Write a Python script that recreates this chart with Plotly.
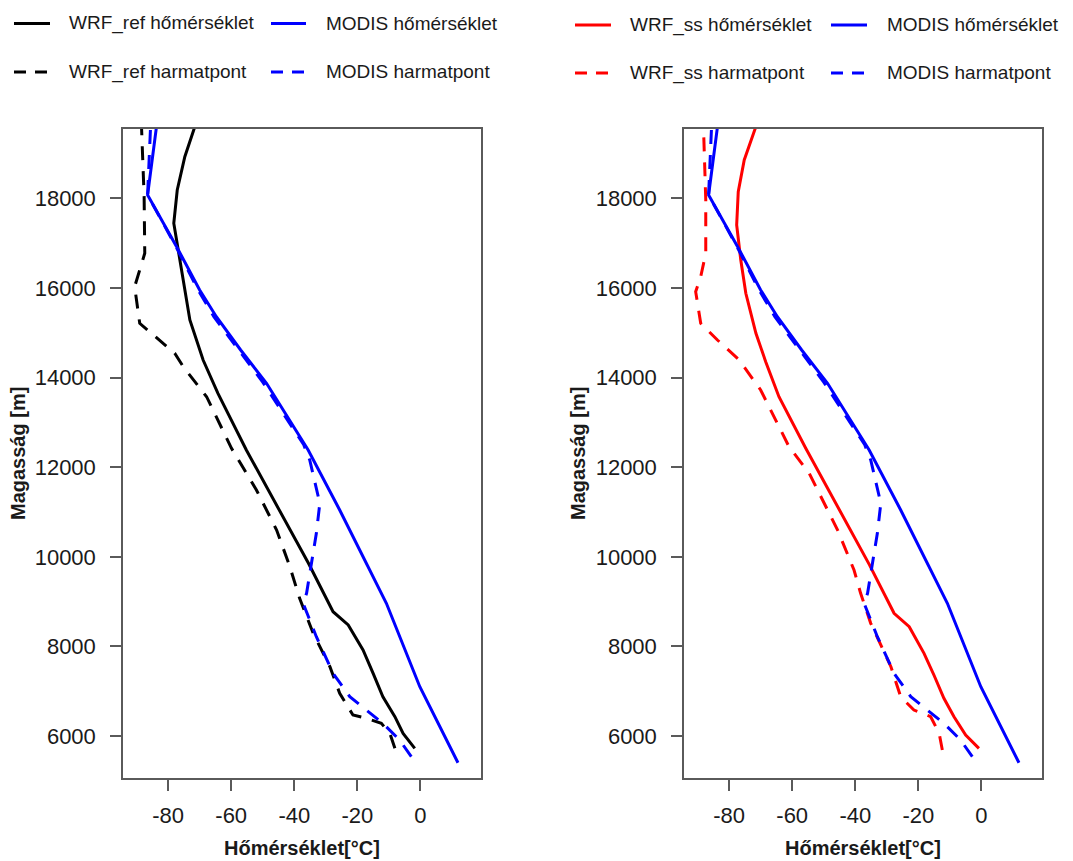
import plotly.graph_objects as go

# ---- data: temperature (°C) vs. height (m) ----
# WRF_ref temperature
ref_t_T = [-1.8, -5.5, -8.1, -11.9, -15.0, -18.2, -22.9, -27.7, -35.5, -55.2, -64.2,
           -68.9, -73.1, -76.3, -78.2, -77.1, -74.7, -71.8, -70.9]
ref_t_H = [5725, 6060, 6431, 6877, 7399, 7920, 8478, 8774, 9855, 12384, 13649,
           14392, 15285, 16624, 17444, 18187, 18930, 19542, 19700]
# WRF_ref dew point
ref_d_T = [-8.1, -9.7, -12.4, -17.1, -21.4, -25.6, -28.7, -34.0, -38.3, -41.4, -45.6,
           -52.0, -59.9, -67.8, -75.2, -77.9, -89.0, -90.6, -87.4, -87.6, -88.4, -88.5]
ref_d_H = [5725, 6060, 6283, 6395, 6469, 6953, 7547, 8292, 9073, 9779, 10598,
           11491, 12421, 13573, 14243, 14542, 15211, 16028, 16774, 18037, 19542, 19700]
# WRF_ss temperature
ss_t_T = [-0.8, -5.0, -8.7, -11.9, -15.0, -18.2, -22.9, -27.7, -35.5, -55.7, -64.2,
          -68.4, -71.5, -74.7, -76.3, -77.6, -77.1, -75.2, -71.8, -71.0]
ss_t_H = [5725, 6022, 6431, 6841, 7350, 7846, 8440, 8739, 9820, 12421, 13573,
          14355, 14988, 15881, 16624, 17406, 18149, 18856, 19542, 19700]
# WRF_ss dew point
ss_d_T = [-12.4, -13.4, -16.1, -21.4, -25.6, -28.7, -35.1, -38.3, -40.4, -45.6, -54.6,
          -61.0, -70.0, -76.8, -83.7, -89.0, -90.6, -89.0, -87.4, -87.4, -88.1, -88.2]
ss_d_H = [5688, 6060, 6431, 6580, 6877, 7547, 8515, 9185, 9705, 10598, 11863,
          12457, 13723, 14392, 14839, 15211, 15917, 16252, 16774, 17963, 19542, 19700]
# MODIS temperature
mod_t_T = [11.9, -0.2, -10.8, -25.6, -35.6, -48.8, -57.0, -64.7, -70.0, -77.3, -86.5,
           -83.7, -83.5]
mod_t_H = [5404, 7100, 8962, 11044, 12384, 13872, 14616, 15359, 15955, 16922, 18075,
           19542, 19700]
# MODIS dew point
mod_d_T = [-2.9, -6.6, -11.9, -22.4, -27.7, -33.0, -37.2, -36.1, -33.0, -31.9, -35.1,
           -37.0, -50.0, -65.5, -70.5, -77.5, -86.5, -85.8, -85.5]
mod_d_H = [5538, 5911, 6283, 6877, 7399, 8216, 8962, 9185, 10524, 11194, 12160,
           12500, 13900, 15359, 15955, 16922, 18075, 19377, 19700]

x_ticks = [-80, -60, -40, -20, 0]
x_labels = ["-80", "-60", "-40", "-20", "0"]
y_ticks = [6000, 8000, 10000, 12000, 14000, 16000, 18000]
y_labels = ["6000", "8000", "10000", "12000", "14000", "16000", "18000"]
x_range = [-94.3, 19.2]
y_range = [5063, 19548]

BLACK, BLUE, RED = "#000000", "#0000FF", "#FF0000"
DASH = "14px,11px"
LW = 3
FONT = "Arial, Liberation Sans, sans-serif"
W, H = 1073, 861

fig = go.Figure()

def add(xs, ys, color, dash, name, ax):
    fig.add_trace(go.Scatter(
        x=xs, y=ys, mode="lines", name=name, showlegend=False,
        line=dict(color=color, width=LW, dash=dash),
        xaxis="x" if ax == 1 else "x2", yaxis="y" if ax == 1 else "y2"))

add(ref_t_T, ref_t_H, BLACK, "solid", "WRF_ref hőmérséklet", 1)
add(ref_d_T, ref_d_H, BLACK, DASH, "WRF_ref harmatpont", 1)
add(mod_t_T, mod_t_H, BLUE, "solid", "MODIS hőmérséklet", 1)
add(mod_d_T, mod_d_H, BLUE, DASH, "MODIS harmatpont", 1)

add(ss_t_T, ss_t_H, RED, "solid", "WRF_ss hőmérséklet", 2)
add(ss_d_T, ss_d_H, RED, DASH, "WRF_ss harmatpont", 2)
add(mod_t_T, mod_t_H, BLUE, "solid", "MODIS hőmérséklet", 2)
add(mod_d_T, mod_d_H, BLUE, DASH, "MODIS harmatpont", 2)

FRAME = "#5a5a5a"
axis_common = dict(showline=True, mirror=True, linecolor=FRAME, linewidth=1.5,
                   ticks="outside", ticklen=11, tickwidth=1.5, tickcolor=FRAME,
                   showgrid=False, zeroline=False, automargin=False,
                   tickfont=dict(family=FONT, size=22, color="#1a1a1a"))

def px_x(p):
    return p / W

def px_y(p):
    return 1 - p / H

fig.update_layout(
    width=W, height=H,
    margin=dict(l=0, r=0, t=0, b=0),
    paper_bgcolor="white", plot_bgcolor="white",
    xaxis=dict(domain=[px_x(123), px_x(481)], range=x_range, tickvals=x_ticks,
               ticktext=x_labels, anchor="y", ticklabelstandoff=6, **axis_common),
    yaxis=dict(domain=[px_y(778), px_y(129)], range=y_range, tickvals=y_ticks,
               ticktext=y_labels, anchor="x", ticklabelstandoff=10, **axis_common),
    xaxis2=dict(domain=[px_x(684), px_x(1042)], range=x_range, tickvals=x_ticks,
                ticktext=x_labels, anchor="y2", ticklabelstandoff=6, **axis_common),
    yaxis2=dict(domain=[px_y(778), px_y(129)], range=y_range, tickvals=y_ticks,
                ticktext=y_labels, anchor="x2", ticklabelstandoff=10, **axis_common),
    showlegend=False,
)

annotations = []
shapes = []

# axis titles
for cx in (302, 863):
    annotations.append(dict(text="<b>Hőmérséklet[°C]</b>", x=px_x(cx), y=px_y(848),
                            xref="paper", yref="paper", showarrow=False,
                            xanchor="center", yanchor="middle",
                            font=dict(family=FONT, size=20, color="#1a1a1a")))
for cx in (18, 578):
    annotations.append(dict(text="<b>Magasság [m]</b>", x=px_x(cx), y=px_y(454),
                            xref="paper", yref="paper", showarrow=False, textangle=-90,
                            xanchor="center", yanchor="middle",
                            font=dict(family=FONT, size=20, color="#1a1a1a")))

# legend keys drawn above each panel
legend_items = [
    (14, 50, 67, 23.5, BLACK, "solid", "WRF_ref hőmérséklet"),
    (271, 306, 324, 23.5, BLUE, "solid", "MODIS hőmérséklet"),
    (14, 50, 67, 72, BLACK, DASH, "WRF_ref harmatpont"),
    (271, 306, 324, 72, BLUE, DASH, "MODIS harmatpont"),
    (575, 611, 628, 25, RED, "solid", "WRF_ss hőmérséklet"),
    (831, 867, 885, 25, BLUE, "solid", "MODIS hőmérséklet"),
    (575, 611, 628, 73, RED, DASH, "WRF_ss harmatpont"),
    (831, 867, 885, 73, BLUE, DASH, "MODIS harmatpont"),
]
for x0, x1, tx, yy, col, dash, label in legend_items:
    shapes.append(dict(type="line", xref="paper", yref="paper",
                       x0=px_x(x0), x1=px_x(x1), y0=px_y(yy), y1=px_y(yy),
                       line=dict(color=col, width=LW, dash="12px,9px" if dash != "solid" else dash)))
    annotations.append(dict(text=label, x=px_x(tx), y=px_y(yy), xref="paper", yref="paper",
                            showarrow=False, xanchor="left", yanchor="middle",
                            font=dict(family=FONT, size=19, color="#1a1a1a")))

fig.update_layout(annotations=annotations, shapes=shapes)
fig.write_html("out.html")
